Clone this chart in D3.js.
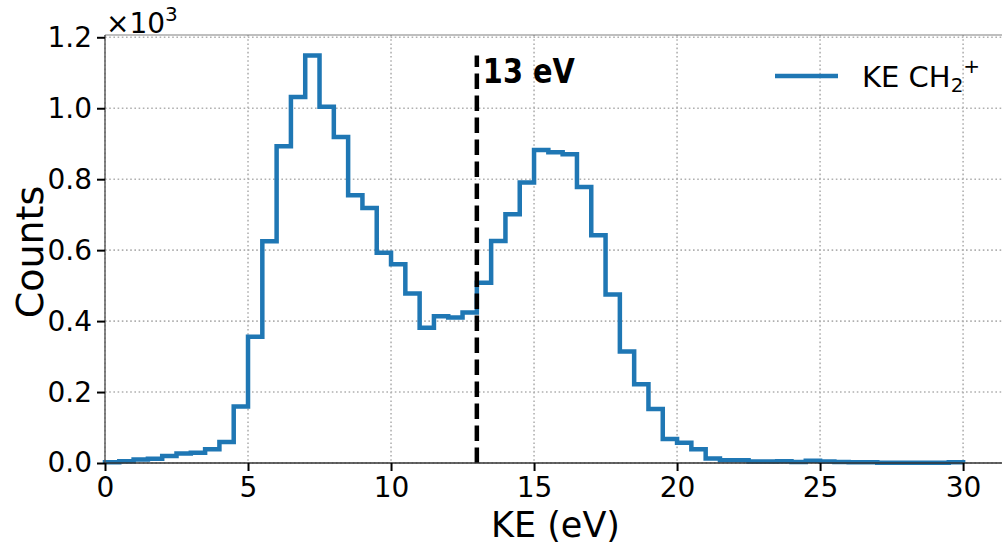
<!DOCTYPE html>
<html>
<head>
<meta charset="utf-8">
<script src="https://cdn.jsdelivr.net/npm/d3@7"></script>
<style>
  html, body { margin: 0; padding: 0; background: #fff; }
  svg { display: block; font-family: "DejaVu Sans", sans-serif; }
</style>
</head>
<body>
<svg id="chart" width="1002" height="546"></svg>
<script>
// ---- data ----
const binWidth = 0.5;
const binStarts = d3.range(0, 30, 0.5);
const counts = [
  2, 5, 10, 12, 20, 27, 29, 39, 59, 159,
  356, 625, 893, 1032, 1149, 1004, 919, 755, 719, 593,
  560, 478, 381, 414, 410, 424, 508, 626, 701, 791,
  882, 876, 870, 778, 642, 475, 314, 222, 152, 68,
  57, 39, 13, 8, 8, 4, 4, 5, 3, 6,
  4, 3, 2, 2, 1, 1, 1, 1, 1, 2
];
const xTicks = [0, 5, 10, 15, 20, 25, 30];
const yTicks = [0, 200, 400, 600, 800, 1000, 1200];
const cutValue = 13;
const cutLabel = "13 eV";
const xLabel = "KE (eV)";
const yLabel = "Counts";

// ---- layout ----
const svg = d3.select("#chart");
const L = 105, R = 1006, T = 35, B = 463;
const maxCount = d3.max(counts);
const x = d3.scaleLinear().domain([0, 31.5]).range([L, R]);
const y = d3.scaleLinear().domain([0, maxCount * 1.05]).range([B, T]);

const gridColor = "#b0b0b0";
// grid
const grid = svg.append("g");
grid.selectAll("line.gx").data(xTicks).join("line")
  .attr("x1", d => x(d)).attr("x2", d => x(d))
  .attr("y1", T).attr("y2", B)
  .attr("stroke", gridColor).attr("stroke-width", 1.6)
  .attr("stroke-dasharray", "1.6,2.6");
grid.selectAll("line.gy").data(yTicks).join("line")
  .attr("x1", L).attr("x2", R)
  .attr("y1", d => y(d)).attr("y2", d => y(d))
  .attr("stroke", gridColor).attr("stroke-width", 1.6)
  .attr("stroke-dasharray", "1.6,2.6");

// histogram step outline
const pts = [[0, 0]];
counts.forEach((c, i) => {
  const x0 = binStarts[i], x1 = binStarts[i] + binWidth;
  pts.push([x0, c]);
  pts.push([x1, c]);
});
pts.push([30, 0]);
const line = d3.line().x(d => x(d[0])).y(d => y(d[1]));
svg.append("path")
  .attr("d", line(pts))
  .attr("fill", "none")
  .attr("stroke", "#1f77b4")
  .attr("stroke-width", 4.5)
  .attr("stroke-linejoin", "miter")
  .attr("stroke-linecap", "butt");

// vertical dashed cut line
svg.append("line")
  .attr("x1", x(cutValue)).attr("x2", x(cutValue))
  .attr("y1", y(0)).attr("y2", y(maxCount))
  .attr("stroke", "#000").attr("stroke-width", 4.5)
  .attr("stroke-dasharray", "15.5,6.5");

svg.append("text")
  .attr("x", x(cutValue) + 6).attr("y", 83)
  .attr("font-size", 33).attr("font-weight", "bold")
  .attr("textLength", 92).attr("lengthAdjust", "spacingAndGlyphs")
  .text(cutLabel);

// spines
svg.append("line").attr("x1", L).attr("x2", R).attr("y1", T).attr("y2", T)
  .attr("stroke", "#808080").attr("stroke-width", 1.2);
svg.append("line").attr("x1", L).attr("x2", L).attr("y1", T).attr("y2", B)
  .attr("stroke", "#555").attr("stroke-width", 1.4);
svg.append("line").attr("x1", L).attr("x2", R).attr("y1", B).attr("y2", B)
  .attr("stroke", "#333").attr("stroke-width", 1.4);

// axes
const xAxis = svg.append("g").attr("transform", `translate(0,${B})`)
  .call(d3.axisBottom(x).tickValues(xTicks).tickSize(8).tickPadding(6).tickFormat(d3.format("d")));
const yAxis = svg.append("g").attr("transform", `translate(${L},0)`)
  .call(d3.axisLeft(y).tickValues(yTicks).tickSize(8).tickPadding(5).tickFormat(d => (d / 1000).toFixed(1)));
[xAxis, yAxis].forEach(g => {
  g.select(".domain").remove();
  g.selectAll(".tick line").attr("stroke", "#000").attr("stroke-width", 2);
  g.selectAll(".tick text").attr("font-size", 28).attr("fill", "#000")
    .attr("font-family", "DejaVu Sans, sans-serif");
});

// axis labels
svg.append("text")
  .attr("x", (L + R) / 2).attr("y", 536.5)
  .attr("text-anchor", "middle").attr("font-size", 35)
  .text(xLabel);
svg.append("text")
  .attr("transform", "translate(43,252) rotate(-90)")
  .attr("text-anchor", "middle").attr("font-size", 38)
  .text(yLabel);

// offset text ×10^3
const off = svg.append("text").attr("x", 106).attr("y", 33).attr("font-size", 28);
off.append("tspan").text("×10");
off.append("tspan").attr("font-size", 20).attr("dy", -12).text("3");

// legend
svg.append("line").attr("x1", 775).attr("x2", 838).attr("y1", 76).attr("y2", 76)
  .attr("stroke", "#1f77b4").attr("stroke-width", 4.5);
const lg = svg.append("text").attr("x", 862).attr("y", 87).attr("font-size", 29);
lg.append("tspan").text("KE CH");
lg.append("tspan").attr("font-size", 20).attr("dy", 5).text("2");
lg.append("tspan").attr("font-size", 20).attr("dy", -19).text("+");
</script>
</body>
</html>
